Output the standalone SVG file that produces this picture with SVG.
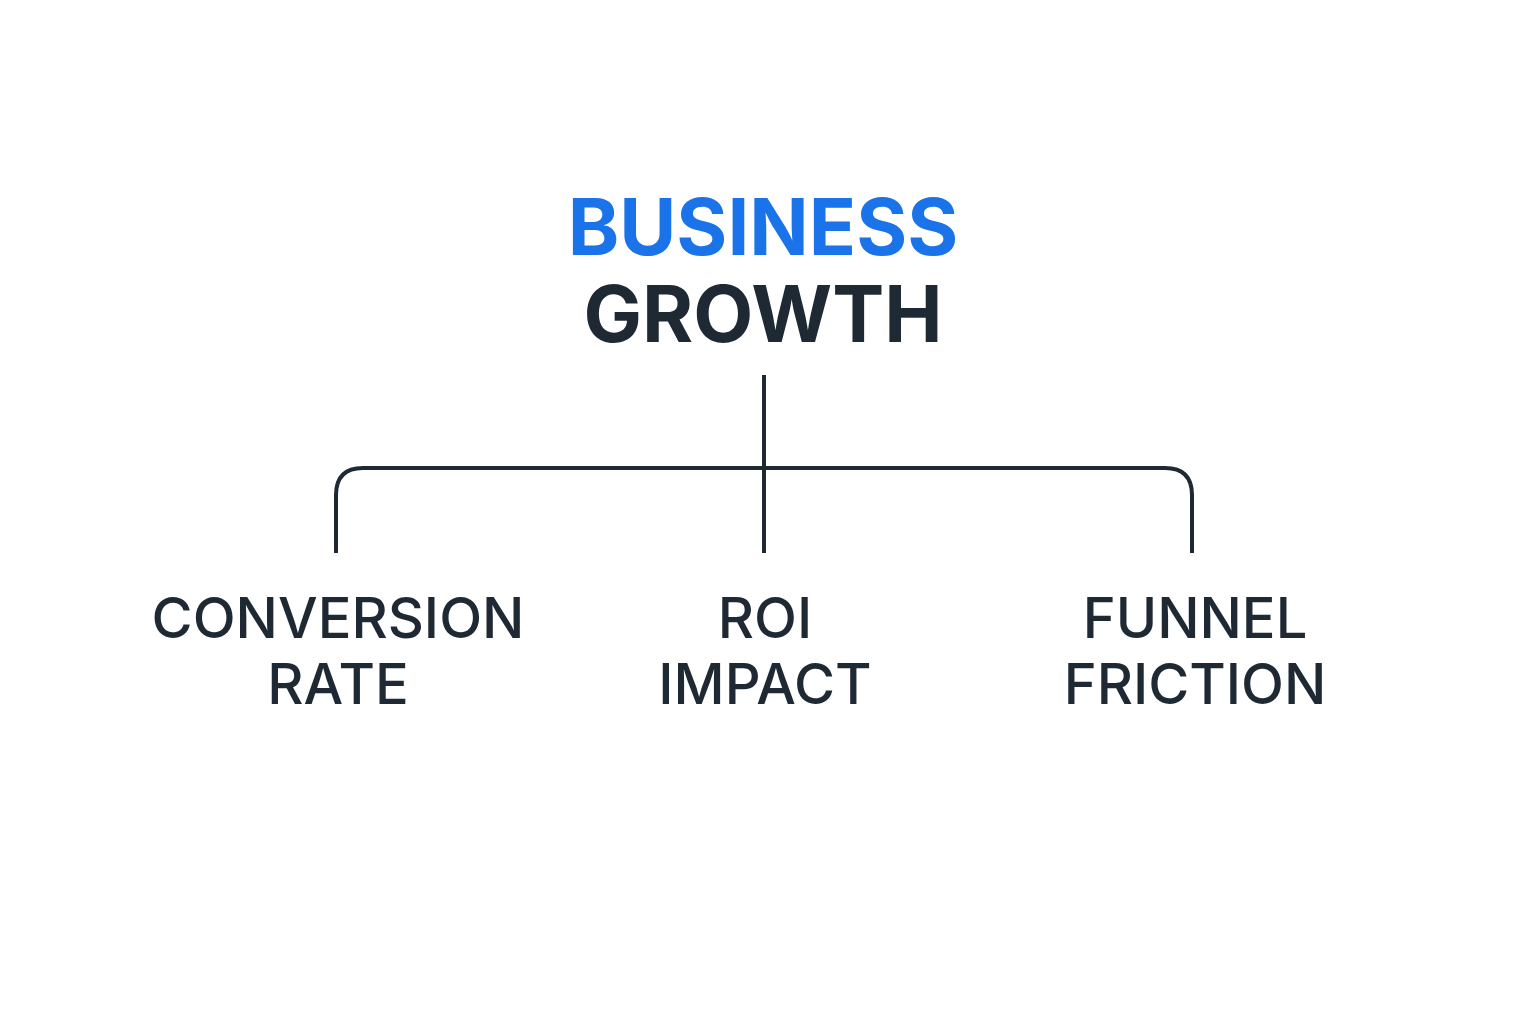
<svg xmlns="http://www.w3.org/2000/svg" width="1536" height="1024" viewBox="0 0 1536 1024">
<style>
.t{font-family:Inter,"Liberation Sans",sans-serif;text-anchor:middle;fill:#1f2933}
.h{font-weight:700;font-size:78px}
.n{font-weight:500;font-size:56px}
.c{fill:none;stroke:#1f2933;stroke-width:4}
</style>
<rect width="1536" height="1024" fill="#fff"/>
<g id="root"><text class="t h" x="763" y="255" style="fill:#1a73e8">BUSINESS</text><text class="t h" x="763" y="342">GROWTH</text></g>
<g id="connectors">
<path class="c" d="M764 375V553M336 553V495Q336 468 363 468H1165Q1192 468 1192 495V553"/>
</g>
<g id="conv"><text class="t n" x="338" y="638">CONVERSION</text><text class="t n" x="338" y="704">RATE</text></g>
<g id="roi"><text class="t n" x="765" y="638">ROI</text><text class="t n" x="765" y="704">IMPACT</text></g>
<g id="funnel"><text class="t n" x="1195" y="638">FUNNEL</text><text class="t n" x="1195" y="704">FRICTION</text></g>
</svg>
